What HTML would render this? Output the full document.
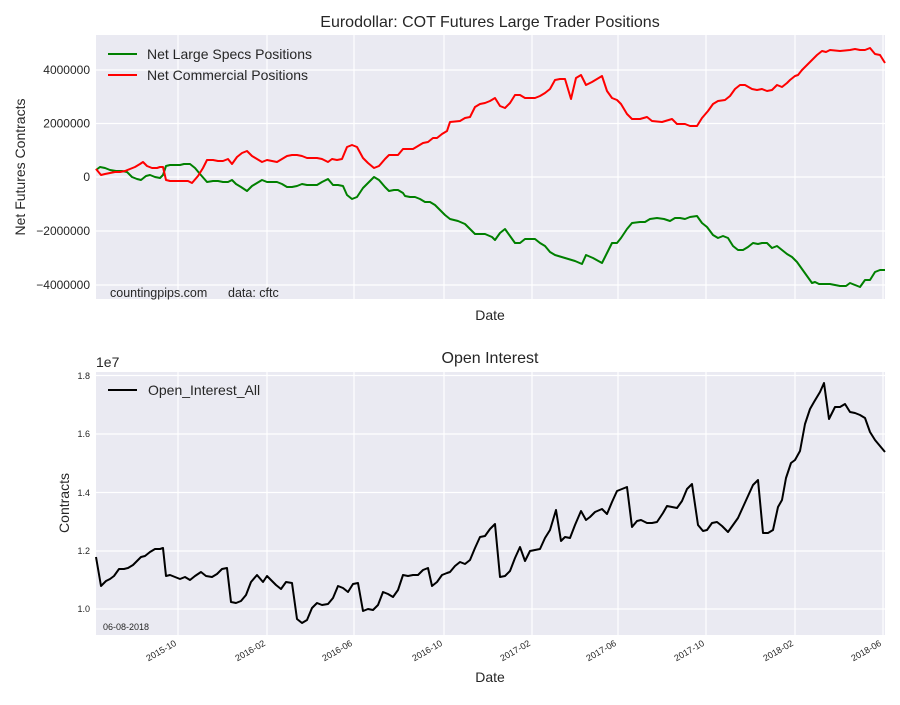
<!DOCTYPE html>
<html><head><meta charset="utf-8"><style>
body{margin:0;background:#fff;}
svg text{font-family:"Liberation Sans","DejaVu Sans",sans-serif;fill:#262626;}
</style></head><body>
<svg width="900" height="700" viewBox="0 0 900 700" xmlns="http://www.w3.org/2000/svg">
<rect width="900" height="700" fill="#fff"/>
<!-- Top axes -->
<rect x="96" y="35" width="789" height="264" fill="#EAEAF2"/>
<g stroke="#fff" stroke-width="1.2">
<line x1="178" y1="35" x2="178" y2="299"/><line x1="267" y1="35" x2="267" y2="299"/><line x1="354" y1="35" x2="354" y2="299"/><line x1="444" y1="35" x2="444" y2="299"/><line x1="532" y1="35" x2="532" y2="299"/><line x1="618" y1="35" x2="618" y2="299"/><line x1="706" y1="35" x2="706" y2="299"/><line x1="795" y1="35" x2="795" y2="299"/><line x1="883" y1="35" x2="883" y2="299"/>
<line x1="96" y1="70" x2="885" y2="70"/><line x1="96" y1="123.5" x2="885" y2="123.5"/><line x1="96" y1="177" x2="885" y2="177"/><line x1="96" y1="231" x2="885" y2="231"/><line x1="96" y1="285" x2="885" y2="285"/>
</g>
<g font-size="12" text-anchor="end">
<text x="90" y="74">4000000</text><text x="90" y="127.5">2000000</text><text x="90" y="181">0</text><text x="90" y="235">−2000000</text><text x="90" y="289">−4000000</text>
</g>
<text x="490" y="27" font-size="16" text-anchor="middle">Eurodollar: COT Futures Large Trader Positions</text>
<text x="490" y="320" font-size="14" text-anchor="middle">Date</text>
<text transform="translate(25,167) rotate(-90)" font-size="14" text-anchor="middle">Net Futures Contracts</text>
<text x="110" y="297" font-size="12.5">countingpips.com</text>
<text x="228" y="297" font-size="12.5">data: cftc</text>
<g fill="none" stroke-width="2" stroke-linejoin="round">
<polyline stroke="#008000" points="96,170 100,167 105,168 110,170 116,171 122,171 127,172 132,177 137,179 141,180 146,176 150,175 155,177 160,178 163,175 166,166 170,165 175,165 180,165 184,164 190,164 195,168 200,174 207,182 213,181 218,181 223,182 228,182 232,180 236,184 241,187 247,191 252,186 257,183 262,180 267,182 272,182 277,182 282,184 287,187 292,187 297,186 302,184 307,185 312,185 317,185 322,182 328,179 333,185 338,185 343,186 347,195 352,199 357,197 363,188 368,183 374,177 379,180 385,187 389,191 394,190 398,190 403,193 405,196 410,197 415,197 420,199 425,202 430,202 435,205 440,210 445,215 450,219 458,221 465,224 470,229 475,234 485,234 492,237 495,240 500,233 505,229 510,236 515,243 520,243 525,239 535,239 540,243 545,246 550,252 555,255 565,258 575,261 582,264 586,255 593,258 602,263 607,253 612,243 617,243 621,238 627,229 632,223 640,222 645,222 650,219 657,218 664,219 670,221 675,218 680,218 685,219 690,217 697,216 702,223 707,227 713,235 718,238 723,236 728,238 733,246 738,250 743,250 748,247 753,243 758,244 762,243 767,243 772,248 777,246 782,250 787,254 792,257 797,262 802,269 807,276 812,283 815,282 819,284 823,284 830,284 840,286 846,286 850,283 855,285 860,287 865,280 870,280 875,272 880,270 885,270"/>
<polyline stroke="#ff0000" points="96,169 101,175 105,174 110,173 115,172 120,172 125,171 130,169 135,167 140,164 143,162 147,166 152,168 157,168 160,167 163,167 166,180 170,181 178,181 183,181 188,181 192,183 198,176 203,168 207,160 213,160 218,161 223,161 228,159 232,164 237,157 242,153 247,151 252,156 257,159 262,162 267,160 272,161 277,162 282,159 287,156 292,155 297,155 302,156 307,158 312,158 317,158 322,159 328,162 332,159 337,160 342,159 347,147 352,145 357,147 363,158 368,163 374,168 379,166 385,159 389,155 394,155 398,155 403,149 408,149 413,149 418,146 423,143 428,142 433,138 437,138 442,134 447,131 450,122 460,121 465,118 470,117 475,107 480,104 485,103 490,101 495,98 500,106 505,108 510,103 515,95 520,95 525,98 535,98 540,96 545,93 550,89 555,80 560,79 565,79 571,99 576,78 581,75 586,85 592,82 597,79 602,76 607,91 612,98 617,100 621,104 627,114 632,119 640,119 647,117 652,121 662,122 672,119 677,124 685,124 690,126 697,126 702,118 708,111 713,104 718,101 725,100 730,96 735,89 740,85 745,85 752,89 757,90 762,89 767,91 772,90 777,85 782,87 787,83 790,80 795,76 798,75 802,70 807,65 812,60 817,55 822,51 826,52 830,50 840,51 850,50 855,49 860,50 865,50 870,48 875,54 880,55 885,63"/>
</g>
<line x1="108" y1="54" x2="137" y2="54" stroke="#008000" stroke-width="2"/>
<line x1="108" y1="75" x2="137" y2="75" stroke="#ff0000" stroke-width="2"/>
<text x="147" y="59" font-size="14">Net Large Specs Positions</text>
<text x="147" y="80" font-size="14">Net Commercial Positions</text>

<!-- Bottom axes -->
<rect x="96" y="372" width="789" height="263" fill="#EAEAF2"/>
<g stroke="#fff" stroke-width="1.2">
<line x1="178" y1="372" x2="178" y2="635"/><line x1="267" y1="372" x2="267" y2="635"/><line x1="354" y1="372" x2="354" y2="635"/><line x1="444" y1="372" x2="444" y2="635"/><line x1="532" y1="372" x2="532" y2="635"/><line x1="618" y1="372" x2="618" y2="635"/><line x1="706" y1="372" x2="706" y2="635"/><line x1="795" y1="372" x2="795" y2="635"/><line x1="883" y1="372" x2="883" y2="635"/>
<line x1="96" y1="375.5" x2="885" y2="375.5"/><line x1="96" y1="434" x2="885" y2="434"/><line x1="96" y1="492.5" x2="885" y2="492.5"/><line x1="96" y1="551" x2="885" y2="551"/><line x1="96" y1="609" x2="885" y2="609"/>
</g>
<g font-size="9" text-anchor="end">
<text x="90" y="379">1.8</text><text x="90" y="437">1.6</text><text x="90" y="496">1.4</text><text x="90" y="554">1.2</text><text x="90" y="612">1.0</text>
</g>
<text x="96" y="367" font-size="14">1e7</text>
<text x="490" y="363" font-size="16" text-anchor="middle">Open Interest</text>
<text x="490" y="682" font-size="14" text-anchor="middle">Date</text>
<text transform="translate(69,503) rotate(-90)" font-size="14" text-anchor="middle">Contracts</text>
<text x="103" y="630" font-size="9">06-08-2018</text>
<g font-size="9" text-anchor="end">
<text transform="translate(177,645) rotate(-30)">2015-10</text>
<text transform="translate(266,645) rotate(-30)">2016-02</text>
<text transform="translate(353,645) rotate(-30)">2016-06</text>
<text transform="translate(443,645) rotate(-30)">2016-10</text>
<text transform="translate(531,645) rotate(-30)">2017-02</text>
<text transform="translate(617,645) rotate(-30)">2017-06</text>
<text transform="translate(705,645) rotate(-30)">2017-10</text>
<text transform="translate(794,645) rotate(-30)">2018-02</text>
<text transform="translate(882,645) rotate(-30)">2018-06</text>
</g>
<polyline fill="none" stroke="#000" stroke-width="2" stroke-linejoin="round" points="96,557 101,586 106,581 110,579 114,576 119,569 124,569 128,568 133,565 137,561 141,557 145,556 150,552 155,549 160,549 163,548 166,576 170,575 175,577 180,579 185,577 190,580 195,576 201,572 206,576 212,577 217,574 222,569 227,568 231,602 236,603 241,601 246,595 251,582 257,575 263,582 267,576 271,580 276,585 281,589 286,582 292,583 297,619 302,623 307,620 312,608 317,603 322,605 328,604 333,598 338,586 343,588 348,592 353,584 358,583 363,611 368,609 373,610 378,605 383,592 388,594 393,597 398,590 403,575 408,576 413,575 418,575 423,570 428,568 432,586 437,582 442,575 447,573 450,572 455,566 460,562 465,564 470,560 475,548 480,537 485,536 490,529 495,524 500,577 505,576 510,571 515,558 520,547 525,561 530,551 535,550 540,549 545,538 550,530 556,510 561,541 565,537 570,538 575,525 581,511 586,520 590,517 595,512 602,509 607,514 612,502 617,491 622,489 627,487 632,527 637,521 641,520 647,523 652,523 657,522 663,513 667,506 672,507 677,508 682,501 687,489 692,484 698,525 703,531 707,530 712,523 717,522 722,526 728,532 733,525 738,518 743,507 748,496 753,485 758,480 763,533 768,533 773,530 778,507 782,500 786,478 791,463 795,460 800,451 805,424 810,409 814,402 820,392 824,383 829,419 835,407 840,407 845,404 850,412 855,413 860,415 865,418 870,432 875,440 880,446 885,452"/>
<line x1="108" y1="390" x2="137" y2="390" stroke="#000" stroke-width="2"/>
<text x="148" y="395" font-size="14">Open_Interest_All</text>
</svg>
</body></html>
